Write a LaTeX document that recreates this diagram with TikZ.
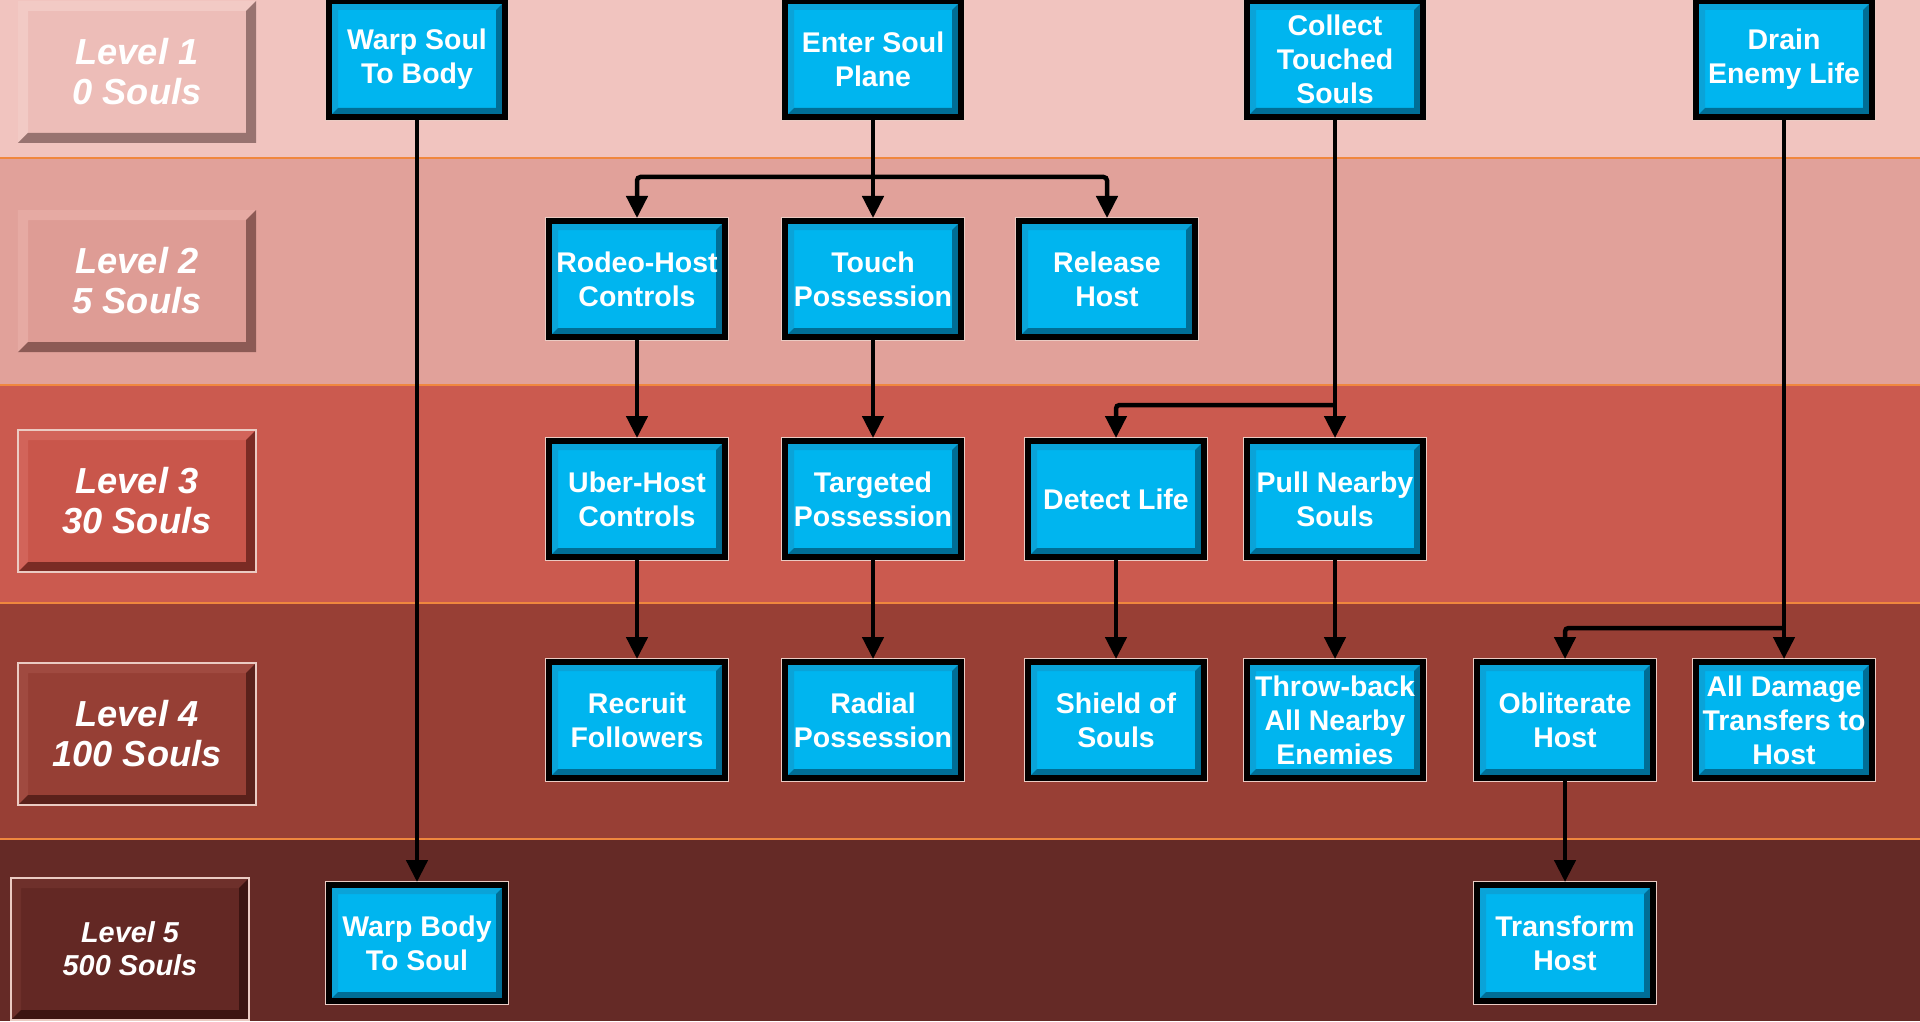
\documentclass[tikz,border=0pt]{standalone}
\usepackage{fontspec}
\setmainfont{Liberation Sans}
\usetikzlibrary{arrows.meta}

\definecolor{bandA}{HTML}{F1C4BF}
\definecolor{bandB}{HTML}{E1A19A}
\definecolor{bandC}{HTML}{CB5A4F}
\definecolor{bandD}{HTML}{983F35}
\definecolor{bandE}{HTML}{652A26}
\definecolor{lvlAfill}{HTML}{EDBDB8}
\definecolor{lvlAhi}{HTML}{F2CAC5}
\definecolor{lvlAlo}{HTML}{987370}
\definecolor{lvlBfill}{HTML}{DE9C95}
\definecolor{lvlBhi}{HTML}{E6AAA3}
\definecolor{lvlBlo}{HTML}{8C5A55}
\definecolor{lvlCfill}{HTML}{C9564B}
\definecolor{lvlChi}{HTML}{D2645A}
\definecolor{lvlClo}{HTML}{7A2B24}
\definecolor{lvlDfill}{HTML}{963F35}
\definecolor{lvlDhi}{HTML}{A04A40}
\definecolor{lvlDlo}{HTML}{5A211B}
\definecolor{lvlEfill}{HTML}{632824}
\definecolor{lvlEhi}{HTML}{6E302B}
\definecolor{lvlElo}{HTML}{3C1512}
\definecolor{seam}{HTML}{F0873E}
\definecolor{rim}{HTML}{EBCBC3}
\definecolor{skillblue}{HTML}{00B5EF}
\definecolor{skilldark}{HTML}{006E96}
\definecolor{skilllight}{HTML}{0AA3D8}

\begin{document}
\begin{tikzpicture}[
        bev/.style n args={3}{path picture={
            \path (path picture bounding box.south west) coordinate (pbsw)
                  (path picture bounding box.north east) coordinate (pbne);
            \fill[#2] (pbsw) |- (pbne) -- ++(-#1,-#1) -| ([shift={(#1,#1)}]pbsw) -- cycle;
            \fill[#3] (pbsw) -| (pbne) -- ++(-#1,-#1) |- ([shift={(#1,#1)}]pbsw) -- cycle;}},
        skill/.style={draw=black, line width=0.06cm, fill=skillblue,
                      minimum width=1.76cm, minimum height=1.16cm, inner sep=0pt,
                      align=center, text=white,
                      font=\fontsize{8.1}{9.7}\selectfont\bfseries,
                      preaction={draw=rim, line width=0.078cm},
                      bev={0.09cm}{skilllight}{skilldark}},
        lvl/.style={draw=rim, line width=0.35pt, minimum width=2.38cm,
                    minimum height=1.42cm, inner sep=0pt, align=center, text=white,
                    font=\fontsize{10.3}{11.4}\selectfont\bfseries\itshape},
        link/.style={-{Triangle[length=0.22cm,width=0.21cm]}, line width=0.045cm,
                     rounded corners=1pt}
    ]
        \useasboundingbox (0,0) rectangle (19.2,10.21);
        % level bands
        \fill[bandA] (0,8.63) rectangle (19.2,10.21);
        \fill[bandB] (0,6.36) rectangle (19.2,8.63);
        \fill[bandC] (0,4.18) rectangle (19.2,6.36);
        \fill[bandD] (0,1.82) rectangle (19.2,4.18);
        \fill[bandE] (0,0)    rectangle (19.2,1.82);
        \draw[seam, line width=0.02cm] (0,8.63) -- (19.2,8.63)
                                       (0,6.36) -- (19.2,6.36)
                                       (0,4.18) -- (19.2,4.18)
                                       (0,1.82) -- (19.2,1.82);

        % level labels
        \node[lvl, fill=lvlAfill, draw=none, bev={0.1cm}{lvlAhi}{lvlAlo}] (lvl1) at (1.37, 9.49) {Level 1\\0 Souls};
        \node[lvl, fill=lvlBfill, draw=none, bev={0.1cm}{lvlBhi}{lvlBlo}] (lvl2) at (1.37, 7.40) {Level 2\\5 Souls};
        \node[lvl, fill=lvlCfill, bev={0.1cm}{lvlChi}{lvlClo}] (lvl3) at (1.37, 5.20) {Level 3\\30 Souls};
        \node[lvl, fill=lvlDfill, bev={0.1cm}{lvlDhi}{lvlDlo}] (lvl4) at (1.37, 2.87) {Level 4\\100 Souls};
        \node[lvl, fill=lvlEfill, bev={0.1cm}{lvlEhi}{lvlElo},
              font=\fontsize{8.2}{9.4}\selectfont\bfseries\itshape] (lvl5) at (1.30, 0.72) {Level 5\\500 Souls};

        % skills
        \node[skill] (warpsoul)  at (4.17,  9.62) {Warp Soul\\To Body};
        \node[skill] (enter)     at (8.73,  9.62) {Enter Soul\\Plane};
        \node[skill] (collect)   at (13.35, 9.62) {Collect\\Touched\\Souls};
        \node[skill] (drain)     at (17.84, 9.62) {Drain\\Enemy Life};

        \node[skill] (rodeo)     at (6.37,  7.42) {Rodeo-Host\\Controls};
        \node[skill] (touch)     at (8.73,  7.42) {Touch\\Possession};
        \node[skill] (release)   at (11.07, 7.42) {Release\\Host};

        \node[skill] (uber)      at (6.37,  5.22) {Uber-Host\\Controls};
        \node[skill] (targeted)  at (8.73,  5.22) {Targeted\\Possession};
        \node[skill] (detect)    at (11.16, 5.22) {Detect Life};
        \node[skill] (pull)      at (13.35, 5.22) {Pull Nearby\\Souls};

        \node[skill] (recruit)   at (6.37,  3.01) {Recruit\\Followers};
        \node[skill] (radial)    at (8.73,  3.01) {Radial\\Possession};
        \node[skill] (shield)    at (11.16, 3.01) {Shield of\\Souls};
        \node[skill] (throwback) at (13.35, 3.01) {Throw-back\\All Nearby\\Enemies};
        \node[skill] (oblit)     at (15.65, 3.01) {Obliterate\\Host};
        \node[skill] (alldmg)    at (17.84, 3.01) {All Damage\\Transfers to\\Host};

        \node[skill] (warpbody)  at (4.17,  0.78) {Warp Body\\To Soul};
        \node[skill] (transform) at (15.65, 0.78) {Transform\\Host};

        % branch points
        \coordinate (forkenter)   at (8.73,  8.44);
        \coordinate (forkcollect) at (13.35, 6.16);
        \coordinate (forkdrain)   at (17.84, 3.93);

        \draw[link] (warpsoul) -- (warpbody);
        \draw[link] (enter) -- (touch);
        \draw[link] (forkenter) -| (rodeo);
        \draw[link] (forkenter) -| (release);
        \draw[link] (collect) -- (pull);
        \draw[link] (forkcollect) -| (detect);
        \draw[link] (drain) -- (alldmg);
        \draw[link] (forkdrain) -| (oblit);
        \draw[link] (rodeo) -- (uber);
        \draw[link] (touch) -- (targeted);
        \draw[link] (uber) -- (recruit);
        \draw[link] (targeted) -- (radial);
        \draw[link] (detect) -- (shield);
        \draw[link] (pull) -- (throwback);
        \draw[link] (oblit) -- (transform);
    \end{tikzpicture}
\end{document}
